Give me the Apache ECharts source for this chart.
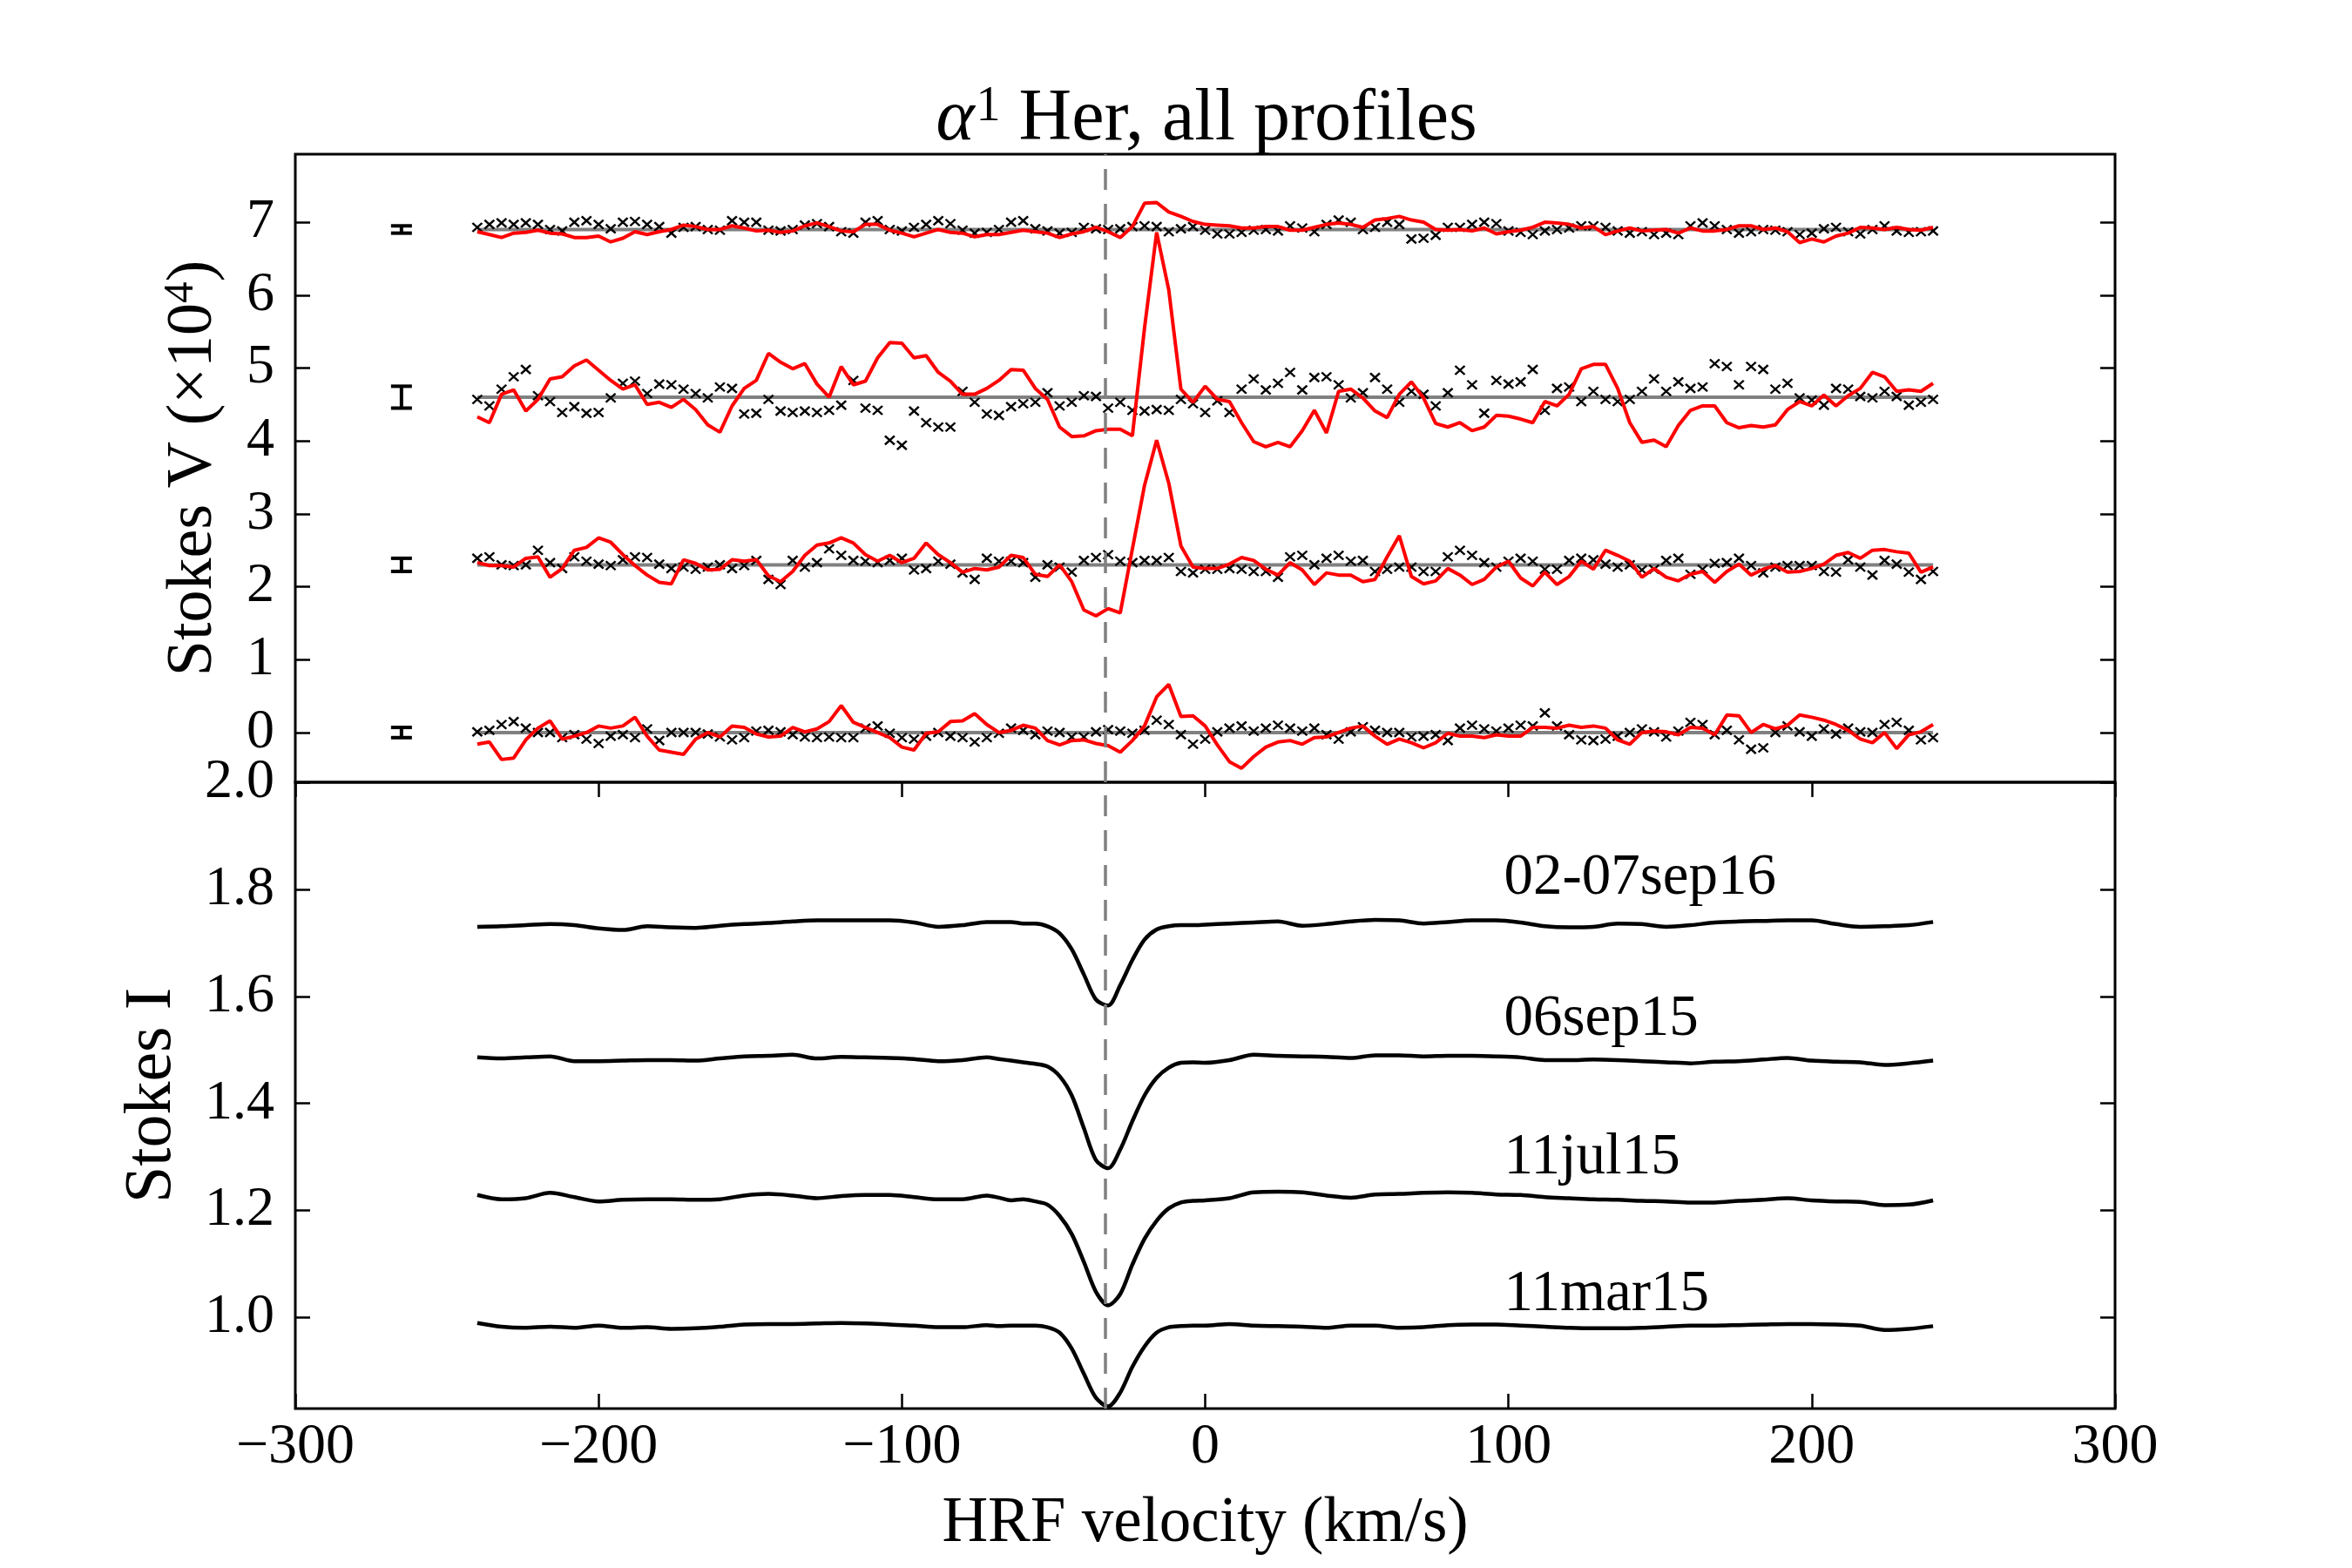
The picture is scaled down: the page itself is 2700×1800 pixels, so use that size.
<!DOCTYPE html>
<html><head><meta charset="utf-8">
<script src="https://cdn.jsdelivr.net/npm/echarts@6/dist/echarts.min.js"></script>
<style>html,body{margin:0;padding:0;background:#fff}#c{width:2700px;height:1800px}</style>
</head><body><div id="c"></div>
<script>
// ---- Stokes V / N velocity grid (km/s) ----
const velocity = [-240,-236,-232,-228,-224,-220,-216,-212,-208,-204,-200,-196,-192,-188,-184,-180,-176,-172,-168,-164,-160,-156,-152,-148,-144,-140,-136,-132,-128,-124,-120,-116,-112,-108,-104,-100,-96,-92,-88,-84,-80,-76,-72,-68,-64,-60,-56,-52,-48,-44,-40,-36,-32,-28,-24,-20,-16,-12,-8,-4,0,4,8,12,16,20,24,28,32,36,40,44,48,52,56,60,64,68,72,76,80,84,88,92,96,100,104,108,112,116,120,124,128,132,136,140,144,148,152,156,160,164,168,172,176,180,184,188,192,196,200,204,208,212,216,220,224,228,232,236,240];

// vertical offsets of the Stokes V profiles (x1e-4)
const offsetsV = [0, 2.3, 4.6, 6.9];
const dates = ['11mar15', '11jul15', '06sep15', '02-07sep16'];

// Stokes V (red), relative to offset, x1e-4
const V_11mar15 = [-0.16,-0.13,-0.37,-0.35,-0.10,0.06,0.16,-0.09,-0.05,0.0,0.09,0.06,0.09,0.21,-0.05,-0.24,-0.27,-0.30,-0.09,0.0,-0.06,0.09,0.07,-0.02,-0.06,-0.05,0.07,0.01,0.05,0.15,
 0.37,0.14,0.07,0.0,-0.07,-0.20,-0.24,-0.01,0.01,0.15,0.16,0.26,0.11,0.0,0.03,0.10,0.06,-0.11,-0.17,-0.11,-0.10,-0.15,-0.18,-0.27,-0.11,0.09,0.49,0.66,0.22,0.23,0.09,
 -0.17,-0.40,-0.49,-0.33,-0.20,-0.13,-0.11,-0.16,-0.07,-0.06,0.0,0.06,0.09,-0.05,-0.16,-0.09,-0.14,-0.21,-0.14,-0.01,-0.05,-0.05,-0.07,-0.03,-0.05,-0.05,0.07,0.07,0.06,0.10,0.07,
 0.09,0.06,-0.10,-0.16,0.0,0.02,0.01,-0.03,0.07,0.06,-0.03,0.24,0.23,0.0,0.11,0.05,0.10,0.24,0.21,0.17,0.11,0.03,-0.09,-0.14,0.0,-0.22,-0.03,0.01,0.11];
const V_11jul15 = [0.03,-0.01,-0.01,-0.03,0.09,0.11,-0.17,-0.05,0.20,0.24,0.37,0.31,0.14,-0.01,-0.14,-0.24,-0.26,0.07,0.02,-0.07,-0.06,0.07,0.05,0.07,-0.15,-0.23,-0.09,0.13,0.27,0.30,
 0.37,0.30,0.14,0.05,0.13,0.03,0.09,0.30,0.14,0.03,-0.10,-0.05,-0.07,-0.03,0.13,0.10,-0.13,-0.16,0.0,-0.23,-0.62,-0.70,-0.60,-0.66,0.22,1.09,1.71,1.12,0.26,-0.03,-0.05,
 -0.05,0.01,0.10,0.06,-0.06,-0.14,0.03,-0.07,-0.27,-0.11,-0.14,-0.14,-0.23,-0.20,0.11,0.40,-0.16,-0.26,-0.22,-0.05,-0.14,-0.27,-0.20,-0.03,0.05,-0.18,-0.29,-0.10,-0.27,-0.16,0.05,
 -0.06,0.20,0.13,0.05,-0.17,-0.05,-0.17,-0.22,-0.13,-0.09,-0.24,-0.09,0.01,-0.14,-0.06,-0.01,-0.10,-0.09,-0.05,0.01,0.13,0.17,0.09,0.20,0.21,0.18,0.16,-0.10,-0.03];
const V_06sep15 = [-0.27,-0.35,0.04,0.10,-0.19,-0.03,0.25,0.28,0.43,0.51,0.37,0.23,0.11,0.17,-0.10,-0.07,-0.14,-0.03,-0.17,-0.38,-0.48,-0.12,0.12,0.23,0.60,0.48,0.39,0.46,0.18,0.0,
 0.42,0.17,0.22,0.54,0.75,0.74,0.54,0.57,0.34,0.22,0.04,0.04,0.12,0.23,0.38,0.37,0.12,-0.03,-0.41,-0.54,-0.53,-0.46,-0.44,-0.44,-0.53,0.95,2.26,1.47,0.11,-0.07,0.15,
 -0.03,-0.06,-0.35,-0.61,-0.68,-0.62,-0.68,-0.46,-0.18,-0.49,0.08,0.11,-0.01,-0.19,-0.28,0.04,0.21,-0.01,-0.36,-0.41,-0.35,-0.46,-0.41,-0.25,-0.26,-0.30,-0.35,-0.06,-0.12,0.04,0.39,
 0.45,0.45,0.12,-0.35,-0.62,-0.59,-0.68,-0.39,-0.18,-0.12,-0.12,-0.35,-0.42,-0.39,-0.41,-0.38,-0.17,-0.06,-0.12,0.03,-0.12,0.02,0.12,0.34,0.28,0.08,0.10,0.08,0.19];
const V_0207sep16 = [-0.03,-0.07,-0.11,-0.05,-0.04,-0.01,-0.05,-0.06,-0.11,-0.11,-0.09,-0.17,-0.12,-0.03,-0.07,-0.03,0.0,0.06,0.04,0.0,0.0,0.05,0.02,-0.02,-0.01,-0.04,-0.02,0.05,0.09,0.04,
 -0.02,-0.03,0.07,0.07,-0.01,-0.05,-0.10,-0.05,0.0,-0.04,-0.05,-0.10,-0.07,-0.07,-0.04,-0.01,-0.03,-0.05,-0.11,-0.06,-0.03,0.03,-0.03,-0.11,0.04,0.36,0.37,0.24,0.18,0.11,0.07,
 0.06,0.05,0.02,0.02,0.04,0.04,-0.01,-0.01,0.03,0.07,0.09,0.07,0.03,0.13,0.15,0.18,0.13,0.10,0.0,-0.01,0.0,-0.02,0.02,-0.06,-0.03,-0.01,0.03,0.10,0.09,0.07,0.02,
 0.04,-0.07,-0.02,0.02,-0.02,-0.01,0.0,-0.05,0.02,-0.02,-0.02,0.0,0.05,0.05,0.0,0.02,-0.03,-0.18,-0.13,-0.17,-0.09,-0.05,0.03,0.02,0.0,0.03,0.0,-0.01,0.03];

// Null profiles N (black crosses), relative to offset, x1e-4
const N_11mar15 = [0.01,0.03,0.11,0.15,0.06,0.0,0.0,-0.07,-0.03,-0.09,-0.15,-0.05,-0.03,-0.07,0.05,-0.11,0.0,0.0,0.0,-0.02,-0.06,-0.10,-0.07,0.02,0.03,0.01,-0.03,-0.06,-0.07,-0.06,
 -0.07,-0.07,0.06,0.09,-0.01,-0.07,-0.09,-0.05,0.0,-0.05,-0.07,-0.13,-0.07,-0.01,0.06,0.03,-0.03,0.02,0.0,-0.06,-0.06,0.01,0.04,0.02,-0.01,0.03,0.17,0.11,-0.03,-0.16,-0.09,
 0.01,0.06,0.09,0.02,0.06,0.10,0.06,0.02,0.06,-0.03,-0.09,0.01,0.08,0.03,0.0,0.0,-0.06,-0.05,-0.03,-0.11,0.06,0.10,0.05,0.02,0.06,0.10,0.09,0.27,0.09,-0.03,-0.10,
 -0.11,-0.09,-0.05,0.0,0.05,0.01,-0.06,0.02,0.14,0.11,-0.03,0.03,-0.10,-0.23,-0.21,0.0,0.09,0.01,-0.05,0.05,-0.02,0.06,0.01,0.0,0.11,0.14,0.03,-0.10,-0.07];
const N_11jul15 = [0.09,0.11,0.0,-0.01,0.0,0.20,0.03,-0.05,0.11,0.05,0.01,-0.01,0.07,0.11,0.10,0.01,-0.05,-0.03,-0.06,-0.03,0.0,-0.05,-0.01,0.06,-0.20,-0.27,0.06,-0.03,0.03,0.22,
 0.13,0.06,0.05,0.03,0.06,0.09,-0.07,-0.05,0.05,0.01,-0.11,-0.20,0.09,0.05,0.05,0.03,-0.17,0.0,-0.03,-0.10,0.06,0.10,0.14,0.05,0.03,0.06,0.06,0.10,-0.09,-0.11,-0.06,
 -0.06,-0.05,-0.06,-0.09,-0.09,-0.17,0.11,0.13,0.0,0.09,0.13,0.05,0.06,-0.09,-0.06,-0.03,-0.03,-0.09,-0.09,0.11,0.20,0.13,0.03,-0.03,0.05,0.09,0.05,-0.06,-0.06,0.06,0.09,
 0.07,0.01,-0.03,0.0,-0.07,-0.06,0.06,0.09,-0.13,-0.06,0.02,0.03,0.09,-0.01,-0.11,-0.03,-0.01,-0.01,-0.01,-0.09,-0.10,0.07,-0.03,-0.14,0.06,0.01,-0.10,-0.20,-0.09];
const N_06sep15 = [-0.03,-0.12,0.11,0.28,0.38,0.02,-0.06,-0.21,-0.13,-0.22,-0.21,-0.01,0.19,0.22,0.05,0.18,0.17,0.11,0.05,-0.01,0.14,0.12,-0.23,-0.22,-0.03,-0.19,-0.21,-0.19,-0.21,-0.18,
 -0.11,0.23,-0.15,-0.18,-0.59,-0.66,-0.19,-0.35,-0.41,-0.41,0.08,-0.07,-0.23,-0.25,-0.13,-0.09,-0.07,0.06,-0.12,-0.07,0.02,0.01,-0.15,-0.07,-0.18,-0.19,-0.17,-0.18,-0.03,-0.09,-0.21,
 -0.05,-0.21,0.11,0.25,0.10,0.19,0.34,0.10,0.27,0.28,0.17,-0.01,0.06,0.27,0.11,-0.07,0.08,0.04,-0.12,0.06,0.37,0.17,-0.22,0.23,0.18,0.21,0.38,-0.18,0.12,0.14,-0.06,
 0.08,-0.03,-0.06,-0.03,0.08,0.25,0.08,0.21,0.12,0.14,0.46,0.42,0.17,0.42,0.38,0.11,0.19,-0.01,-0.04,-0.11,0.12,0.11,0.01,-0.01,0.08,0.01,-0.11,-0.07,-0.03];
const N_0207sep16 = [0.03,0.07,0.09,0.07,0.09,0.07,0.0,-0.02,0.10,0.12,0.07,0.01,0.10,0.11,0.07,0.04,-0.05,0.03,0.04,0.0,-0.01,0.12,0.10,0.10,-0.01,-0.02,0.0,0.06,0.08,0.04,
 -0.03,-0.05,0.10,0.12,0.0,-0.02,0.03,0.07,0.12,0.08,-0.01,-0.05,-0.04,0.0,0.10,0.12,0.01,-0.02,-0.05,-0.04,0.03,0.01,0.0,0.01,0.04,0.05,0.04,-0.03,0.01,0.04,-0.01,
 -0.06,-0.06,-0.04,-0.01,0.0,-0.02,0.05,0.02,-0.03,0.07,0.13,0.10,0.0,0.03,0.10,0.07,-0.13,-0.12,-0.08,0.03,0.03,0.07,0.10,0.08,-0.02,-0.04,-0.07,-0.02,0.0,0.02,0.05,
 0.05,0.03,-0.02,-0.05,-0.03,-0.07,-0.05,-0.07,0.05,0.09,0.05,0.0,-0.05,-0.03,0.0,-0.01,-0.03,-0.07,-0.05,0.01,0.03,-0.03,-0.06,0.0,0.05,-0.02,-0.04,-0.03,-0.02];

// error bars (upper panel)
const errVel = -265;
const errHalf = [0.07, 0.09, 0.15, 0.05];

// ---- Stokes I ----
const velI = [-240,-232,-224,-216,-208,-200,-192,-184,-176,-168,-160,-152,-144,-136,-128,-120,-112,-104,-96,-88,-80,-72,
 -68,-64,-60,-56,-52,-48,-44,-40,-36,-32,-28,-24,-20,-16,-12,-8,-4,0,
 8,16,24,32,40,48,56,64,72,80,88,96,104,112,120,128,136,144,152,160,168,176,184,192,200,208,216,224,232,240];
const I_0207sep16 = [1.730,1.731,1.733,1.735,1.733,1.727,1.724,1.731,1.729,1.728,1.732,1.735,1.737,1.740,1.742,1.742,1.742,1.742,1.738,1.730,1.733,1.739,
 1.739,1.739,1.736,1.736,1.731,1.718,1.688,1.641,1.594,1.583,1.621,1.668,1.706,1.725,1.731,1.733,1.733,1.734,
 1.736,1.738,1.740,1.732,1.735,1.740,1.743,1.742,1.736,1.739,1.742,1.742,1.738,1.731,1.729,1.730,1.736,1.735,1.730,1.733,1.738,1.740,1.741,1.742,1.742,1.735,1.730,1.731,1.733,1.739];
const I_06sep15 = [1.486,1.484,1.486,1.488,1.479,1.479,1.480,1.481,1.481,1.480,1.484,1.488,1.489,1.491,1.484,1.487,1.486,1.485,1.483,1.479,1.481,1.486,
 1.483,1.480,1.477,1.474,1.469,1.451,1.415,1.354,1.294,1.279,1.314,1.367,1.415,1.448,1.467,1.476,1.477,1.476,
 1.481,1.491,1.489,1.488,1.487,1.485,1.490,1.490,1.488,1.489,1.489,1.488,1.486,1.481,1.481,1.482,1.481,1.479,1.477,1.475,1.478,1.479,1.482,1.485,1.480,1.478,1.477,1.472,1.475,1.480];
const I_11jul15 = [1.229,1.221,1.223,1.233,1.225,1.217,1.220,1.221,1.221,1.220,1.221,1.228,1.231,1.228,1.223,1.227,1.229,1.229,1.225,1.221,1.221,1.228,
 1.224,1.219,1.221,1.217,1.211,1.190,1.156,1.104,1.048,1.023,1.044,1.099,1.147,1.181,1.204,1.215,1.218,1.219,
 1.223,1.234,1.235,1.234,1.228,1.224,1.230,1.231,1.233,1.234,1.233,1.230,1.229,1.225,1.223,1.221,1.220,1.218,1.217,1.215,1.215,1.218,1.220,1.223,1.219,1.217,1.216,1.210,1.211,1.219];
const I_11mar15 = [0.990,0.983,0.981,0.983,0.981,0.985,0.981,0.982,0.979,0.980,0.983,0.987,0.988,0.988,0.989,0.990,0.989,0.987,0.985,0.982,0.982,0.986,
 0.984,0.985,0.985,0.985,0.982,0.972,0.942,0.895,0.850,0.834,0.860,0.908,0.946,0.972,0.982,0.984,0.985,0.985,
 0.988,0.985,0.984,0.983,0.981,0.985,0.985,0.981,0.982,0.986,0.987,0.987,0.985,0.983,0.981,0.980,0.980,0.981,0.983,0.985,0.985,0.986,0.987,0.988,0.988,0.987,0.985,0.977,0.979,0.984];

// date labels in the Stokes I panel
const labelVel = [98.5, 98.5, 98.5, 98.5];
const labelY = [1.042, 1.298, 1.556, 1.820];

// reference velocity (dashed line)
const dashVel = -33;

// axis ticks
const vTicks = [0, 1, 2, 3, 4, 5, 6, 7];
const iTicks = [1.0, 1.2, 1.4, 1.6, 1.8, 2.0];

const FONT = "'Liberation Serif','DejaVu Serif',serif";
const Vs = [V_11mar15, V_11jul15, V_06sep15, V_0207sep16];
const Ns = [N_11mar15, N_11jul15, N_06sep15, N_0207sep16];
const Is = [I_11mar15, I_11jul15, I_06sep15, I_0207sep16];

const CROSS = 'path://M0,0L10,10M0,10L10,0';
const tickStyle = {show: true, inside: true, length: 17, lineStyle: {color: '#000', width: 2.5}};
const noLine = {show: false, onZero: false};
const minusFmt = v => (v < 0 ? '\u2212' + Math.abs(v) : String(v));

const series = [];
offsetsV.forEach(off => {
  series.push({type: 'line', xAxisIndex: 0, yAxisIndex: 0, silent: true, symbol: 'none', z: 1,
    data: [[velocity[0], off], [velocity[velocity.length - 1], off]],
    lineStyle: {color: '#808080', width: 4}});
});
offsetsV.forEach((off, k) => {
  series.push({type: 'scatter', xAxisIndex: 0, yAxisIndex: 0, silent: true, z: 2,
    symbol: CROSS, symbolSize: [11, 10],
    itemStyle: {color: 'rgba(0,0,0,0)', borderColor: '#000', borderWidth: 2.4, opacity: 1},
    data: velocity.map((v, i) => [v, off + Ns[k][i]])});
});
offsetsV.forEach((off, k) => {
  series.push({type: 'line', xAxisIndex: 0, yAxisIndex: 0, silent: true, symbol: 'none', z: 3,
    lineStyle: {color: '#ff0000', width: 4},
    data: velocity.map((v, i) => [v, off + Vs[k][i]]),
    markLine: k === 0 ? {symbol: 'none', silent: true, label: {show: false}, z: 6,
      lineStyle: {type: [24, 16], color: '#808080', width: 3.5}, data: [{xAxis: dashVel}]} : undefined});
});
series.push({type: 'custom', xAxisIndex: 0, yAxisIndex: 0, silent: true, z: 3,
  data: offsetsV.map((c, i) => [errVel, c, errHalf[i]]),
  encode: {x: 0, y: 1},
  renderItem: (params, api) => {
    const x = api.value(0), c = api.value(1), h = api.value(2);
    const t = api.coord([x, c + h]), b = api.coord([x, c - h]);
    const cap = 12;
    const st = {stroke: '#000', lineWidth: 4};
    return {type: 'group', children: [
      {type: 'line', shape: {x1: t[0], y1: t[1], x2: b[0], y2: b[1]}, style: st},
      {type: 'line', shape: {x1: t[0] - cap, y1: t[1], x2: t[0] + cap, y2: t[1]}, style: st},
      {type: 'line', shape: {x1: b[0] - cap, y1: b[1], x2: b[0] + cap, y2: b[1]}, style: st}
    ]};
  }});
Is.forEach((arr, k) => {
  series.push({type: 'line', xAxisIndex: 1, yAxisIndex: 2, silent: true, symbol: 'none', smooth: 0.3, z: 3,
    lineStyle: {color: '#000', width: 4.5},
    data: velI.map((v, i) => [v, arr[i]]),
    markLine: k === 0 ? {symbol: 'none', silent: true, label: {show: false}, z: 6,
      lineStyle: {type: [24, 16], color: '#808080', width: 3.5}, data: [{xAxis: dashVel}]} : undefined});
});
series.push({type: 'scatter', xAxisIndex: 1, yAxisIndex: 2, silent: true, symbolSize: 0, z: 4,
  itemStyle: {opacity: 1},
  data: dates.map((d, i) => [labelVel[i], labelY[i], d]),
  label: {show: true, position: [0, 0], align: 'left', verticalAlign: 'middle', opacity: 1,
    formatter: p => p.data[2], fontFamily: FONT, fontSize: 67, color: '#000'}});

const chart = echarts.init(document.getElementById('c'), null, {renderer: 'canvas'});
chart.setOption({
  animation: false,
  backgroundColor: '#fff',
  title: {
    text: '{a|α}{s|1}{b| Her, all profiles}',
    left: 1380, top: 90, textAlign: 'center',
    textStyle: {fontFamily: FONT, fontSize: 84, fontWeight: 'normal', color: '#000',
      rich: {
        a: {fontFamily: FONT, fontSize: 84, fontStyle: 'italic', color: '#000'},
        s: {fontFamily: FONT, fontSize: 56, color: '#000', padding: [0, 0, 30, 2]},
        b: {fontFamily: FONT, fontSize: 84, color: '#000'}
      }}
  },
  grid: [
    {left: 339, top: 177, width: 2089, height: 721, show: true, borderColor: '#000', borderWidth: 3},
    {left: 339, top: 898, width: 2089, height: 719, show: true, borderColor: '#000', borderWidth: 3}
  ],
  xAxis: [
    {gridIndex: 0, type: 'value', min: -300, max: 300, interval: 100,
      axisLine: noLine, axisTick: {show: false}, axisLabel: {show: false}, splitLine: {show: false}},
    {gridIndex: 1, type: 'value', min: -300, max: 300, interval: 100, position: 'bottom',
      axisLine: noLine, axisTick: tickStyle, splitLine: {show: false},
      axisLabel: {fontFamily: FONT, fontSize: 66, color: '#000', margin: 12, formatter: minusFmt},
      name: 'HRF velocity (km/s)', nameLocation: 'middle', nameGap: 96,
      nameTextStyle: {fontFamily: FONT, fontSize: 73, color: '#000'}},
    {gridIndex: 1, type: 'value', min: -300, max: 300, interval: 100, position: 'top',
      axisLine: noLine, axisTick: tickStyle, axisLabel: {show: false}, splitLine: {show: false}}
  ],
  yAxis: [
    {gridIndex: 0, type: 'value', min: -0.682, max: 7.933, position: 'left',
      axisLine: noLine, splitLine: {show: false},
      axisTick: Object.assign({customValues: vTicks}, tickStyle),
      axisLabel: {customValues: vTicks, fontFamily: FONT, fontSize: 64, color: '#000', margin: 24},
      name: 'Stokes V (×10{s|4})', nameLocation: 'middle', nameGap: 78,
      nameTextStyle: {fontFamily: FONT, fontSize: 74, color: '#000',
        rich: {s: {fontFamily: FONT, fontSize: 49, color: '#000', padding: [0, 0, 28, 0]}}}},
    {gridIndex: 0, type: 'value', min: -0.682, max: 7.933, position: 'right',
      axisLine: noLine, splitLine: {show: false},
      axisTick: Object.assign({customValues: vTicks}, tickStyle), axisLabel: {show: false}},
    {gridIndex: 1, type: 'value', min: 0.83, max: 2.0, position: 'left',
      axisLine: noLine, splitLine: {show: false},
      axisTick: Object.assign({customValues: iTicks}, tickStyle),
      axisLabel: {customValues: iTicks, fontFamily: FONT, fontSize: 64, color: '#000', margin: 24,
        formatter: v => v.toFixed(1)},
      name: 'Stokes I', nameLocation: 'middle', nameGap: 126,
      nameTextStyle: {fontFamily: FONT, fontSize: 76, color: '#000'}},
    {gridIndex: 1, type: 'value', min: 0.83, max: 2.0, position: 'right',
      axisLine: noLine, splitLine: {show: false},
      axisTick: Object.assign({customValues: iTicks}, tickStyle), axisLabel: {show: false}}
  ],
  series: series
});
</script>
</body></html>
